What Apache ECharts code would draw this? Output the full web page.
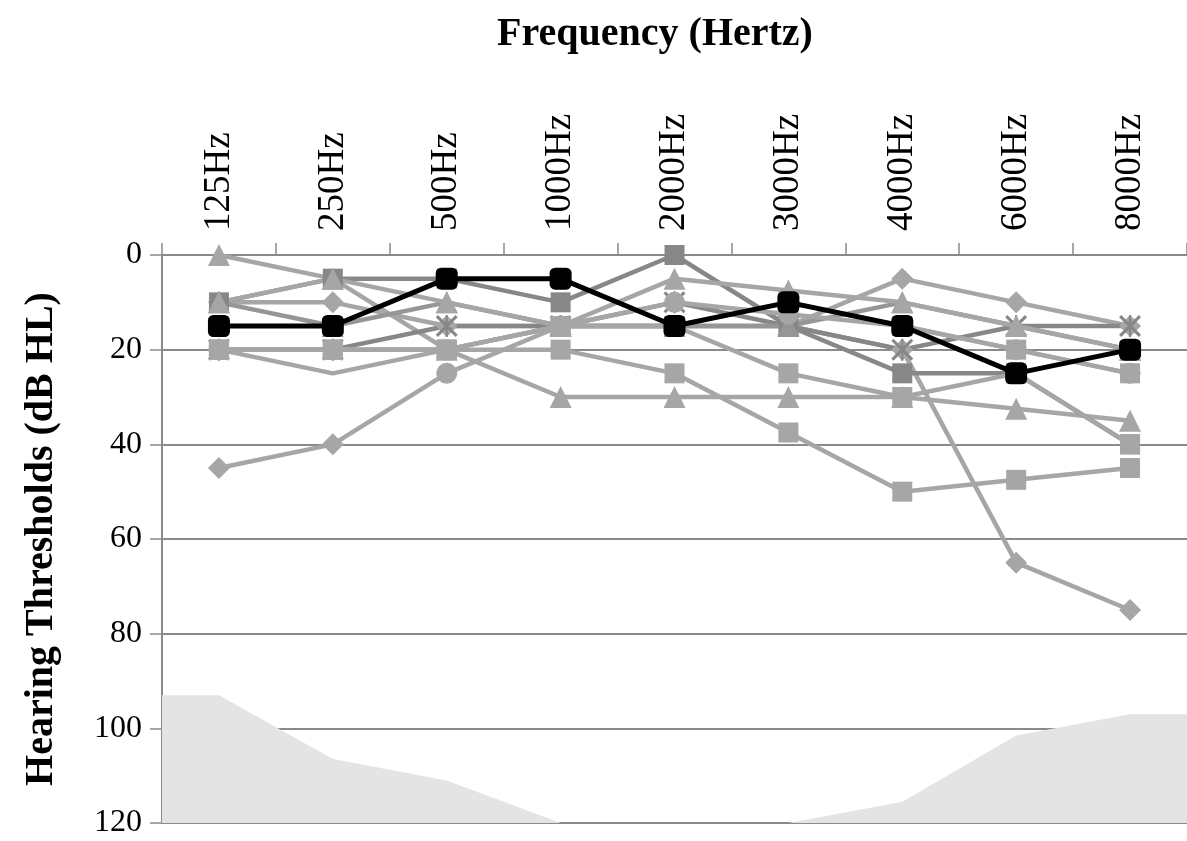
<!DOCTYPE html>
<html>
<head>
<meta charset="utf-8">
<script src="https://cdn.jsdelivr.net/npm/echarts@6/dist/echarts.min.js"></script>
<style>
html,body{margin:0;padding:0;background:#fff;}
#chart{width:1187px;height:841px;}
</style>
</head>
<body>
<div id="chart"></div>
<script>
const categories = ['125Hz','250Hz','500Hz','1000Hz','2000Hz','3000Hz','4000Hz','6000Hz','8000Hz'];
const yTicks = [0,20,40,60,80,100,120];
const bananaArea = [93,106.5,111,120,120,120,115.5,101.5,97];

const meanThresholds = [15,15,5,5,15,10,15,25,20];
const p1 = [0,5,20,30,30,30,30,32.5,35];
const p2 = [45,40,25,15,15,15,20,65,75];
const p3 = [10,10,15,15,15,15,5,10,15];
const p4 = [10,5,5,10,0,15,25,25,40];
const p5 = [20,20,15,15,10,15,20,15,15];
const p6 = [10,15,10,15,15,15,10,15,20];
const p7 = [10,5,10,15,5,7.5,10,15,20];
const p8 = [20,20,20,20,25,37.5,50,47.5,45];
const p9 = [20,20,20,15,15,25,30,25,40];
const p10 = [20,25,20,15,10,12.5,15,20,25];
const p11 = [20,20,20,15,15,10,15,20,25];

const LIGHT = '#a6a6a6', MID = '#969696', DARK = '#878787';
const starSym = 'path://M1,0 L5,4 L9,0 L10,1 L6,5 L10,9 L9,10 L5,6 L1,10 L0,9 L4,5 L0,1 Z M4.5,0 L5.5,0 L5.5,10 L4.5,10 Z';

// marker overrides per point index (style only)
const participants = [
  {name:'P1', data:p1, symbol:'triangle', color:LIGHT},
  {name:'P2', data:p2, symbol:'diamond', color:LIGHT, markerAt:{2:'circle'}},
  {name:'P3', data:p3, symbol:'diamond', color:LIGHT},
  {name:'P4', data:p4, symbol:'rect', color:DARK},
  {name:'P5', data:p5, symbol:starSym, color:DARK},
  {name:'P6', data:p6, symbol:'triangle', color:MID},
  {name:'P7', data:p7, symbol:'triangle', color:LIGHT},
  {name:'P8', data:p8, symbol:'rect', color:LIGHT},
  {name:'P9', data:p9, symbol:'rect', color:LIGHT},
  {name:'P11', data:p11, symbol:'rect', color:LIGHT},
  {name:'P10', data:p10, symbol:'circle', color:LIGHT, markerAt:{1:'none'}}
];

const FONT = '"Liberation Serif","Times New Roman",serif';
const GRID = '#8a8a8a';

const n = categories.length;
const areaData = [[0, bananaArea[0]]]
  .concat(bananaArea.map((v,i)=>[i+0.5, v]))
  .concat([[n, bananaArea[n-1]]]);

function sizeFor(s){ return s==='rect'?20:(s==='circle'?21:22); }

const series = [{
  name:'Speech banana', type:'line', xAxisIndex:1, data:areaData,
  symbol:'none', lineStyle:{width:0}, silent:true, z:1,
  areaStyle:{color:'#e4e4e4', opacity:1, origin:'end'}
}];
participants.forEach(p=>{
  const m = p.markerAt || {};
  series.push({
    name:p.name, type:'line',
    data:p.data.map((v,i)=> m[i] ? {value:v, symbol:m[i], symbolSize:sizeFor(m[i])} : v),
    symbol:p.symbol, symbolSize:sizeFor(p.symbol),
    lineStyle:{width:4.5, color:p.color}, itemStyle:{color:p.color}, z:3
  });
});
series.push({
  name:'Mean', type:'line', data:meanThresholds, symbol:'roundRect', symbolSize:22,
  lineStyle:{width:5, color:'#000'}, itemStyle:{color:'#000'}, z:5
});

const chart = echarts.init(document.getElementById('chart'), null, {renderer:'canvas'});
chart.setOption({
  animation:false,
  backgroundColor:'#fff',
  title:{text:'Frequency (Hertz)', left:650, textAlign:'center', top:10,
    textStyle:{fontFamily:FONT, fontSize:40, fontWeight:'bold', color:'#000'}},
  grid:{left:162, top:255, width:1026, height:568, containLabel:false},
  xAxis:[{
    type:'category', data:categories, position:'top', boundaryGap:true,
    axisLine:{show:true, lineStyle:{color:GRID, width:2}},
    axisTick:{show:true, inside:false, length:12, lineStyle:{color:GRID, width:1.5}},
    axisLabel:{rotate:90, margin:24, fontFamily:FONT, fontSize:37, color:'#000'},
    splitLine:{show:false}
  },{
    type:'value', min:0, max:n, show:false
  }],
  yAxis:{
    type:'value', inverse:true, min:yTicks[0], max:yTicks[yTicks.length-1], interval:20,
    name:'Hearing Thresholds (dB HL)', nameLocation:'middle', nameGap:100, nameRotate:90,
    nameTextStyle:{fontFamily:FONT, fontSize:40, fontWeight:'bold', color:'#000'},
    axisLine:{show:true, lineStyle:{color:GRID, width:2}},
    axisTick:{show:true, inside:false, length:12, lineStyle:{color:GRID, width:1.5}},
    axisLabel:{margin:20, fontFamily:FONT, fontSize:32, color:'#000'},
    splitLine:{show:true, lineStyle:{color:GRID, width:2}}
  },
  series:series
});
</script>
</body>
</html>
